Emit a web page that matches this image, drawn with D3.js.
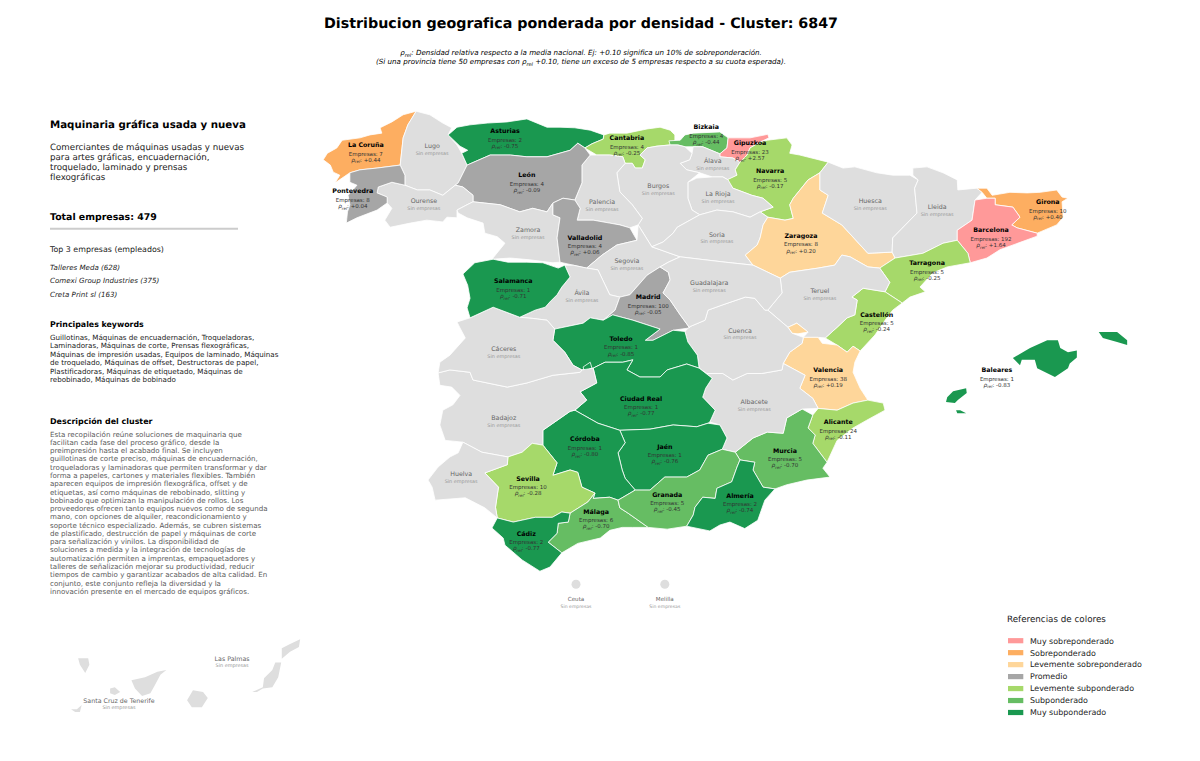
<!DOCTYPE html>
<html lang="es"><head><meta charset="utf-8">
<script src="https://d3js.org/d3.v7.min.js"></script>
<style>html,body{margin:0;padding:0;background:#fff}svg{display:block;opacity:.999}text{font-family:"DejaVu Sans",sans-serif;text-rendering:geometricPrecision}</style>
</head><body><div id="c"></div>
<script>
// ---------- DATA ----------
const activeProvinces = ["La Coruña","Pontevedra","Asturias","Cantabria","Bizkaia","Gipuzkoa","Navarra","Zaragoza","Girona","Barcelona","Tarragona","Castellón","Valencia","Alicante","Murcia","Almería","Granada","Jaén","Córdoba","Ciudad Real","Toledo","Madrid","Salamanca","Valladolid","León","Sevilla","Málaga","Cádiz","Baleares"];
const empresas = [7,8,2,4,4,23,5,8,10,192,5,5,38,24,5,2,5,1,1,1,1,100,1,4,4,10,6,2,1];
const rhoRel = [0.44,0.04,-0.75,-0.25,-0.44,2.57,-0.17,0.20,0.40,1.64,-0.25,-0.24,0.19,-0.11,-0.70,-0.74,-0.45,-0.76,-0.80,-0.77,-0.85,-0.05,-0.71,0.06,-0.09,-0.28,-0.70,-0.77,-0.83];
const emptyProvinces = ["Lugo","Ourense","Zamora","Palencia","Burgos","Álava","La Rioja","Soria","Huesca","Lleida","Segovia","Ávila","Guadalajara","Teruel","Cáceres","Cuenca","Badajoz","Albacete","Huelva","Santa Cruz de Tenerife","Las Palmas","Ceuta","Melilla"];
const islandProvinces = ["Baleares","Santa Cruz de Tenerife","Las Palmas"];
const legendLabels = ["Muy sobreponderado","Sobreponderado","Levemente sobreponderado","Promedio","Levemente subponderado","Subponderado","Muy subponderado"];
const legendColors = ["#ff9999","#fdae61","#fed69a","#a6a6a6","#a6d96a","#66bd63","#1a9850"];
const rhoThresholds = [-0.705,-0.3,-0.1,0.1,0.3,1];
const top3 = ["Talleres Meda (628)","Comexi Group Industries (375)","Creta Print sl (163)"];
const descLines = ["Comerciantes de máquinas usadas y nuevas","para artes gráficas, encuadernación,","troquelado, laminado y prensas","flexográficas"];
const keywordLines = ["Guillotinas, Máquinas de encuadernación, Troqueladoras,","Laminadoras, Máquinas de corte, Prensas flexográficas,","Máquinas de impresión usadas, Equipos de laminado, Máquinas","de troquelado, Máquinas de offset, Destructoras de papel,","Plastificadoras, Máquinas de etiquetado, Máquinas de","rebobinado, Máquinas de bobinado"];
const clusterLines = ["Esta recopilación reúne soluciones de maquinaria que","facilitan cada fase del proceso gráfico, desde la","preimpresión hasta el acabado final. Se incluyen","guillotinas de corte preciso, máquinas de encuadernación,","troqueladoras y laminadoras que permiten transformar y dar","forma a papeles, cartones y materiales flexibles. También","aparecen equipos de impresión flexográfica, offset y de","etiquetas, así como máquinas de rebobinado, slitting y","bobinado que optimizan la manipulación de rollos. Los","proveedores ofrecen tanto equipos nuevos como de segunda","mano, con opciones de alquiler, reacondicionamiento y","soporte técnico especializado. Además, se cubren sistemas","de plastificado, destrucción de papel y máquinas de corte","para señalización y vinilos. La disponibilidad de","soluciones a medida y la integración de tecnologías de","automatización permiten a imprentas, empaquetadores y","talleres de señalización mejorar su productividad, reducir","tiempos de cambio y garantizar acabados de alta calidad. En","conjunto, este conjunto refleja la diversidad y la","innovación presente en el mercado de equipos gráficos."];

// Province outlines, approximate [lon, lat] (Canaries in their displaced inset position)
const boundaries = {
"La Coruña":[[[-7.71,43.78],[-7.93,43.72],[-8.12,43.60],[-8.32,43.50],[-8.29,43.41],[-8.49,43.38],[-8.66,43.33],[-8.96,43.29],[-9.05,43.16],[-9.21,43.07],[-9.28,42.96],[-9.16,42.87],[-9.11,42.75],[-9.00,42.70],[-9.08,42.57],[-8.83,42.74],[-8.66,42.79],[-8.37,42.82],[-7.98,42.87],[-7.93,43.33],[-7.85,43.55]]],
"Lugo":[[[-7.71,43.78],[-7.48,43.72],[-7.26,43.58],[-7.11,43.50],[-7.17,43.38],[-7.02,43.21],[-6.94,43.07],[-6.85,42.87],[-7.00,42.57],[-7.05,42.53],[-7.26,42.36],[-7.48,42.45],[-7.69,42.45],[-7.90,42.53],[-7.90,42.70],[-7.98,42.87],[-7.93,43.33],[-7.85,43.55]]],
"Asturias":[[[-7.17,43.38],[-7.02,43.51],[-6.80,43.55],[-6.51,43.58],[-6.17,43.60],[-5.84,43.65],[-5.50,43.51],[-5.28,43.51],[-5.03,43.50],[-4.77,43.46],[-4.54,43.38],[-4.55,43.31],[-4.74,43.23],[-4.86,43.16],[-4.98,43.24],[-5.11,43.12],[-5.50,43.01],[-5.84,43.01],[-6.12,43.04],[-6.46,43.04],[-6.85,42.87],[-6.94,43.07],[-6.84,43.12],[-6.97,43.19]]],
"Cantabria":[[[-4.54,43.38],[-4.44,43.41],[-4.15,43.41],[-3.81,43.48],[-3.59,43.51],[-3.42,43.46],[-3.34,43.38],[-3.34,43.29],[-3.42,43.21],[-3.64,43.19],[-3.81,43.16],[-3.93,43.04],[-3.84,42.96],[-3.89,42.82],[-4.01,42.82],[-4.06,42.90],[-4.18,42.90],[-4.22,43.01],[-4.44,43.04],[-4.66,43.04],[-4.86,43.16],[-4.74,43.23],[-4.55,43.31]]],
"Bizkaia":[[[-3.44,43.28],[-3.25,43.29],[-3.17,43.38],[-3.03,43.41],[-2.58,43.43],[-2.44,43.33],[-2.46,43.16],[-2.58,43.06],[-2.87,43.18],[-3.03,43.18],[-3.17,43.18],[-3.29,43.21],[-3.42,43.21]]],
"Gipuzkoa":[[[-2.44,43.33],[-2.07,43.33],[-1.77,43.39],[-1.75,43.33],[-1.90,43.26],[-2.07,43.16],[-2.12,43.04],[-2.24,42.92],[-2.36,42.99],[-2.58,43.01],[-2.58,43.06],[-2.46,43.16]]],
"Álava":[[[-2.58,43.01],[-2.36,42.99],[-2.24,42.92],[-2.32,42.79],[-2.29,42.70],[-2.44,42.62],[-2.53,42.67],[-2.71,42.67],[-2.92,42.74],[-3.14,42.79],[-3.25,42.90],[-3.09,42.96],[-3.05,43.07],[-3.03,43.18],[-2.87,43.18],[-2.58,43.06]]],
"Navarra":[[[-1.90,43.26],[-1.78,43.29],[-1.45,43.33],[-1.36,43.21],[-1.40,43.07],[-1.23,43.04],[-0.75,42.92],[-0.89,42.74],[-1.09,42.62],[-1.34,42.31],[-1.40,42.20],[-1.34,41.97],[-1.48,41.94],[-1.77,41.99],[-1.90,42.08],[-1.68,42.16],[-1.85,42.31],[-2.04,42.36],[-2.36,42.48],[-2.46,42.62],[-2.29,42.70],[-2.32,42.79],[-2.24,42.92],[-2.12,43.04],[-2.07,43.16]]],
"La Rioja":[[[-3.12,42.58],[-2.97,42.65],[-2.71,42.67],[-2.53,42.67],[-2.44,42.62],[-2.36,42.48],[-2.04,42.36],[-1.85,42.31],[-1.68,42.16],[-1.90,42.08],[-2.07,41.99],[-2.36,42.08],[-2.63,42.11],[-2.92,42.03],[-3.05,42.11],[-3.12,42.31]]],
"Burgos":[[[-3.64,43.19],[-3.81,43.16],[-3.93,43.04],[-3.84,42.96],[-3.89,42.82],[-4.01,42.82],[-4.06,42.90],[-4.18,42.90],[-4.32,42.74],[-4.27,42.42],[-4.06,42.20],[-3.89,41.97],[-3.96,41.86],[-3.73,41.49],[-3.54,41.57],[-3.37,41.72],[-3.30,41.82],[-2.92,42.03],[-3.05,42.11],[-3.12,42.31],[-3.12,42.58],[-2.92,42.74],[-3.14,42.79],[-3.25,42.90],[-3.09,42.96],[-3.05,43.07],[-3.17,43.18],[-3.29,43.21],[-3.42,43.21]]],
"Palencia":[[[-4.66,43.04],[-4.44,43.04],[-4.22,43.01],[-4.18,42.90],[-4.32,42.74],[-4.27,42.42],[-4.06,42.20],[-3.89,41.97],[-3.96,41.86],[-4.10,41.81],[-4.27,41.86],[-4.44,41.89],[-4.72,41.94],[-4.99,41.94],[-4.94,42.14],[-5.03,42.28],[-4.91,42.57],[-4.91,42.87],[-4.77,43.04]]],
"León":[[[-6.85,42.87],[-6.46,43.04],[-6.12,43.04],[-5.84,43.01],[-5.50,43.01],[-5.11,43.12],[-4.98,43.24],[-4.86,43.16],[-4.77,43.04],[-4.91,42.87],[-4.91,42.57],[-5.03,42.28],[-5.23,42.31],[-5.40,42.23],[-5.50,42.08],[-5.74,42.14],[-5.96,42.08],[-6.29,42.20],[-6.75,42.25],[-6.75,42.36],[-6.92,42.50],[-7.05,42.53],[-7.00,42.57]]],
"Ourense":[[[-8.35,42.50],[-8.12,42.58],[-7.90,42.53],[-7.69,42.45],[-7.48,42.45],[-7.26,42.36],[-7.05,42.53],[-6.92,42.50],[-6.75,42.36],[-6.75,42.25],[-6.85,42.20],[-7.02,42.11],[-7.02,41.98],[-7.19,41.99],[-7.26,41.91],[-7.53,41.94],[-7.81,41.89],[-8.15,41.82],[-8.24,41.94],[-8.12,42.14],[-8.20,42.23],[-8.20,42.33],[-8.37,42.40]]],
"Pontevedra":[[[-8.83,42.74],[-8.66,42.79],[-8.37,42.82],[-7.98,42.87],[-7.90,42.70],[-7.90,42.53],[-8.12,42.58],[-8.35,42.50],[-8.37,42.40],[-8.20,42.33],[-8.20,42.23],[-8.37,42.11],[-8.71,41.98],[-8.89,41.89],[-8.87,42.08],[-8.83,42.20],[-8.86,42.36],[-8.71,42.53],[-8.83,42.58]]],
"Zamora":[[[-6.75,42.25],[-6.29,42.20],[-5.96,42.08],[-5.74,42.14],[-5.50,42.08],[-5.40,42.23],[-5.40,42.03],[-5.28,41.98],[-5.33,41.64],[-5.28,41.23],[-5.40,41.22],[-5.79,41.27],[-6.12,41.30],[-6.43,41.28],[-6.21,41.55],[-6.34,41.66],[-6.55,41.72],[-6.58,41.89],[-6.85,41.98],[-7.00,42.06],[-7.02,42.11],[-6.85,42.20]]],
"Valladolid":[[[-5.40,42.23],[-5.23,42.31],[-5.03,42.28],[-4.94,42.14],[-4.99,41.94],[-4.72,41.94],[-4.44,41.89],[-4.27,41.86],[-4.10,41.81],[-3.98,41.60],[-4.32,41.52],[-4.57,41.35],[-4.83,41.13],[-5.06,41.18],[-5.28,41.23],[-5.33,41.64],[-5.28,41.98],[-5.40,42.03]]],
"Segovia":[[[-4.83,41.13],[-4.57,41.35],[-4.32,41.52],[-3.98,41.60],[-3.96,41.86],[-3.73,41.49],[-3.25,41.32],[-3.45,41.23],[-3.59,41.15],[-3.81,41.01],[-4.10,40.68],[-4.27,40.64],[-4.44,40.68],[-4.64,41.10]]],
"Ávila":[[[-5.20,41.18],[-5.06,41.18],[-4.83,41.13],[-4.64,41.10],[-4.44,40.68],[-4.27,40.64],[-4.35,40.42],[-4.55,40.25],[-4.77,40.29],[-4.89,40.20],[-5.37,40.10],[-5.50,40.25],[-5.74,40.28],[-5.96,40.30],[-5.70,40.42],[-5.53,40.47],[-5.45,40.56],[-5.33,40.68],[-5.25,40.81],[-5.11,40.98]]],
"Madrid":[[[-3.59,41.15],[-3.45,41.06],[-3.42,40.93],[-3.54,40.71],[-3.42,40.59],[-3.25,40.34],[-3.09,40.12],[-3.37,40.08],[-3.71,39.91],[-3.84,39.91],[-3.59,40.10],[-4.05,40.25],[-4.39,40.34],[-4.55,40.25],[-4.35,40.42],[-4.27,40.64],[-4.10,40.68],[-3.81,41.01]]],
"Soria":[[[-3.30,41.82],[-2.92,42.03],[-2.63,42.11],[-2.36,42.08],[-2.07,41.99],[-1.90,42.08],[-1.77,41.99],[-1.85,41.86],[-1.90,41.64],[-1.95,41.52],[-2.15,41.35],[-2.02,41.18],[-2.49,41.23],[-2.83,41.27],[-3.25,41.32],[-3.73,41.49],[-3.54,41.57],[-3.37,41.72]]],
"Zaragoza":[[[-1.77,41.99],[-1.48,41.94],[-1.34,41.97],[-1.40,42.20],[-1.34,42.31],[-1.09,42.62],[-0.89,42.74],[-0.89,42.45],[-0.75,42.36],[-0.85,42.06],[-0.52,41.86],[-0.08,41.38],[0.33,41.40],[0.38,41.30],[0.12,41.13],[-0.08,41.15],[-0.38,41.32],[-0.52,41.35],[-0.64,41.18],[-0.92,41.13],[-1.40,41.06],[-1.56,40.96],[-2.02,41.18],[-2.15,41.35],[-1.95,41.52],[-1.90,41.64],[-1.85,41.86]]],
"Huesca":[[[-0.75,42.92],[-0.50,42.82],[-0.30,42.84],[0.07,42.74],[0.34,42.70],[0.63,42.70],[0.77,42.62],[0.71,42.48],[0.75,42.06],[0.34,41.64],[0.33,41.40],[-0.08,41.38],[-0.52,41.86],[-0.85,42.06],[-0.75,42.36],[-0.89,42.45],[-0.89,42.74]]],
"Lleida":[[[0.68,42.82],[0.92,42.84],[1.19,42.74],[1.43,42.62],[1.44,42.45],[1.76,42.48],[1.85,42.41],[1.73,42.28],[1.68,41.94],[1.43,41.77],[1.43,41.60],[1.19,41.55],[0.85,41.38],[0.38,41.30],[0.33,41.40],[0.34,41.64],[0.75,42.06],[0.71,42.48],[0.77,42.62],[0.68,42.70]]],
"Girona":[[[1.76,42.48],[1.93,42.48],[2.02,42.36],[2.32,42.41],[2.61,42.40],[2.83,42.41],[3.11,42.45],[3.20,42.33],[3.30,42.31],[3.20,42.25],[3.22,41.99],[3.11,41.86],[2.78,41.72],[2.44,41.81],[2.35,41.86],[2.49,41.99],[2.37,42.16],[2.07,42.20],[2.07,42.31],[1.93,42.31],[1.85,42.41]]],
"Barcelona":[[[1.73,42.28],[1.93,42.31],[2.07,42.31],[2.07,42.20],[2.37,42.16],[2.49,41.99],[2.35,41.86],[2.44,41.81],[2.78,41.72],[2.78,41.67],[2.15,41.44],[1.93,41.30],[1.65,41.22],[1.61,41.38],[1.43,41.60],[1.43,41.77],[1.68,41.94]]],
"Tarragona":[[[1.19,41.55],[1.43,41.60],[1.61,41.38],[1.65,41.22],[1.26,41.15],[1.02,41.05],[0.80,40.81],[0.89,40.73],[0.63,40.64],[0.50,40.54],[0.21,40.73],[0.29,40.89],[0.12,41.13],[0.38,41.30],[0.85,41.38]]],
"Castellón":[[[-0.35,40.64],[-0.16,40.79],[0.21,40.73],[0.50,40.54],[0.34,40.42],[0.24,40.29],[0.04,40.00],[-0.21,39.73],[-0.33,39.81],[-0.43,39.71],[-0.60,39.83],[-0.80,39.95],[-0.60,40.13],[-0.43,40.29],[-0.30,40.34],[-0.26,40.59]]],
"Teruel":[[[-1.56,40.96],[-1.40,41.06],[-0.92,41.13],[-0.64,41.18],[-0.52,41.35],[-0.38,41.32],[-0.08,41.15],[0.12,41.13],[0.29,40.89],[0.21,40.73],[-0.16,40.79],[-0.35,40.64],[-0.26,40.59],[-0.30,40.34],[-0.43,40.29],[-0.60,40.13],[-0.80,39.95],[-0.92,39.96],[-1.17,39.96],[-1.09,40.05],[-1.28,40.20],[-1.43,40.13],[-1.77,40.42],[-1.53,40.71]]],
"Valencia":[[[-1.17,39.96],[-0.92,39.96],[-0.85,39.86],[-0.60,39.83],[-0.43,39.71],[-0.33,39.81],[-0.21,39.73],[-0.30,39.54],[-0.33,39.37],[-0.21,39.10],[-0.08,38.90],[-0.33,38.85],[-0.60,38.73],[-0.92,38.76],[-1.01,38.93],[-1.23,39.10],[-1.14,39.32],[-1.51,39.52],[-1.40,39.71],[-1.19,39.86]],[[-1.43,40.13],[-1.28,40.20],[-1.09,40.05],[-1.26,40.02],[-1.36,40.03]]],
"Alicante":[[[-0.92,38.76],[-0.60,38.73],[-0.33,38.85],[-0.08,38.90],[0.18,38.85],[0.21,38.73],[-0.10,38.56],[-0.33,38.43],[-0.60,38.22],[-0.77,37.85],[-1.01,38.17],[-0.97,38.31],[-1.09,38.43],[-1.01,38.65]]],
"Murcia":[[[-2.32,38.02],[-2.02,38.26],[-1.78,38.36],[-1.51,38.34],[-1.45,38.60],[-1.19,38.75],[-1.01,38.65],[-1.09,38.43],[-0.97,38.31],[-1.01,38.17],[-0.77,37.85],[-0.84,37.75],[-0.72,37.60],[-1.11,37.55],[-1.45,37.47],[-1.65,37.40],[-1.85,37.43],[-2.02,37.72],[-1.99,37.85],[-2.24,37.89]]],
"Albacete":[[[-2.93,39.44],[-2.80,39.35],[-2.53,39.35],[-2.36,39.24],[-2.12,39.35],[-1.87,39.35],[-1.53,39.41],[-1.51,39.52],[-1.14,39.32],[-1.23,39.10],[-1.01,38.93],[-0.92,38.76],[-1.19,38.75],[-1.45,38.60],[-1.51,38.34],[-1.78,38.36],[-2.02,38.26],[-2.32,38.02],[-2.54,38.07],[-2.46,38.26],[-2.58,38.48],[-2.75,38.53],[-2.66,38.73],[-2.87,38.95],[-2.82,39.10],[-2.71,39.27]]],
"Cuenca":[[[-3.09,40.14],[-2.83,40.25],[-2.78,40.42],[-2.53,40.51],[-2.15,40.64],[-1.99,40.62],[-1.82,40.42],[-1.77,40.42],[-1.43,40.13],[-1.36,40.03],[-1.17,39.96],[-1.19,39.86],[-1.40,39.71],[-1.51,39.52],[-1.53,39.41],[-1.87,39.35],[-2.12,39.35],[-2.36,39.24],[-2.53,39.35],[-2.80,39.35],[-2.93,39.44],[-2.96,39.66],[-3.12,39.88],[-3.17,40.06]]],
"Guadalajara":[[[-3.25,41.32],[-2.83,41.27],[-2.49,41.23],[-2.02,41.18],[-1.56,40.96],[-1.53,40.71],[-1.77,40.42],[-1.82,40.42],[-1.99,40.62],[-2.15,40.64],[-2.53,40.51],[-2.78,40.42],[-2.83,40.25],[-3.09,40.14],[-3.09,40.12],[-3.25,40.34],[-3.42,40.59],[-3.54,40.71],[-3.42,40.93],[-3.45,41.06],[-3.59,41.15],[-3.45,41.23]]],
"Toledo":[[[-5.37,40.10],[-4.89,40.20],[-4.77,40.29],[-4.55,40.25],[-4.39,40.34],[-4.05,40.25],[-3.59,40.10],[-3.84,39.91],[-3.71,39.91],[-3.37,40.08],[-3.17,40.06],[-3.12,39.88],[-2.96,39.66],[-2.93,39.44],[-3.14,39.51],[-3.47,39.41],[-3.59,39.29],[-3.93,39.29],[-4.15,39.41],[-4.05,39.58],[-4.22,39.54],[-4.52,39.54],[-4.72,39.44],[-4.91,39.41],[-5.06,39.49],[-5.20,39.71],[-5.40,39.91]]],
"Ciudad Real":[[[-4.72,39.44],[-4.52,39.54],[-4.22,39.54],[-4.05,39.58],[-4.15,39.41],[-3.93,39.29],[-3.59,39.29],[-3.47,39.41],[-3.14,39.51],[-2.93,39.44],[-2.71,39.27],[-2.82,39.10],[-2.87,38.95],[-2.66,38.73],[-2.75,38.53],[-2.78,38.51],[-2.97,38.45],[-3.37,38.48],[-3.76,38.41],[-4.27,38.39],[-4.64,38.51],[-5.03,38.73],[-4.83,38.90],[-4.94,39.04],[-4.66,39.19]],[[-4.89,39.46],[-4.77,39.54],[-4.74,39.44],[-4.87,39.39]]],
"Jaén":[[[-4.27,38.39],[-3.76,38.41],[-3.37,38.48],[-2.97,38.45],[-2.78,38.51],[-2.58,38.48],[-2.46,38.26],[-2.54,38.07],[-2.78,37.97],[-2.92,37.72],[-3.14,37.60],[-3.51,37.60],[-3.76,37.38],[-4.01,37.38],[-4.18,37.58],[-4.23,37.72],[-4.30,38.01],[-4.18,38.18]]],
"Córdoba":[[[-5.03,38.73],[-4.64,38.51],[-4.27,38.39],[-4.18,38.18],[-4.30,38.01],[-4.23,37.72],[-4.18,37.58],[-4.01,37.38],[-4.30,37.21],[-4.44,37.26],[-4.72,37.24],[-4.69,37.33],[-4.91,37.43],[-4.98,37.68],[-5.11,37.72],[-5.40,37.63],[-5.33,37.84],[-5.57,38.14],[-5.57,38.39],[-5.11,38.71]]],
"Badajoz":[[[-7.14,39.41],[-6.80,39.37],[-6.75,39.24],[-6.17,39.12],[-5.84,39.19],[-5.40,39.32],[-4.94,39.37],[-4.91,39.41],[-4.72,39.44],[-4.66,39.19],[-4.94,39.04],[-4.83,38.90],[-5.03,38.73],[-5.11,38.71],[-5.57,38.39],[-5.57,38.14],[-5.75,38.17],[-5.92,38.02],[-6.16,37.94],[-6.60,38.02],[-6.92,38.19],[-7.22,38.22],[-7.31,38.48],[-7.26,38.73],[-7.09,38.82],[-6.97,38.98],[-7.11,39.12],[-7.31,39.15],[-7.34,39.36]]],
"Cáceres":[[[-7.02,40.22],[-6.80,40.29],[-6.41,40.47],[-5.96,40.30],[-5.74,40.28],[-5.50,40.25],[-5.37,40.10],[-5.40,39.91],[-5.20,39.71],[-5.06,39.49],[-4.91,39.41],[-4.94,39.37],[-5.40,39.32],[-5.84,39.19],[-6.17,39.12],[-6.75,39.24],[-6.80,39.37],[-7.14,39.41],[-7.34,39.36],[-7.31,39.54],[-7.14,39.66],[-6.88,39.95],[-6.97,40.12]]],
"Salamanca":[[[-6.92,41.03],[-6.72,41.22],[-6.41,41.28],[-6.16,41.23],[-5.84,41.23],[-5.57,41.22],[-5.31,41.13],[-5.20,41.18],[-5.11,40.98],[-5.25,40.81],[-5.33,40.68],[-5.45,40.56],[-5.53,40.47],[-5.70,40.42],[-5.96,40.30],[-6.41,40.47],[-6.80,40.29],[-6.85,40.46],[-6.80,40.62],[-6.84,40.84]]],
"Sevilla":[[[-6.55,37.67],[-6.17,37.81],[-6.16,37.94],[-5.92,38.02],[-5.75,38.17],[-5.57,38.14],[-5.33,37.84],[-5.40,37.63],[-5.11,37.72],[-4.98,37.68],[-4.91,37.43],[-4.69,37.33],[-4.81,37.18],[-5.11,36.99],[-5.25,37.01],[-5.41,36.92],[-5.70,36.92],[-6.07,36.84],[-6.34,36.91],[-6.37,37.09],[-6.32,37.43]]],
"Huelva":[[[-6.92,38.19],[-6.60,38.02],[-6.16,37.94],[-6.17,37.81],[-6.55,37.67],[-6.32,37.43],[-6.37,37.09],[-6.34,36.91],[-6.55,37.08],[-6.88,37.25],[-7.39,37.21],[-7.44,37.43],[-7.51,37.55],[-7.34,37.77],[-7.14,37.94],[-7.00,38.01]]],
"Málaga":[[[-4.72,37.24],[-4.44,37.26],[-4.30,37.21],[-4.27,37.08],[-4.13,36.99],[-3.79,36.75],[-4.06,36.75],[-4.23,36.75],[-4.44,36.70],[-4.60,36.57],[-4.98,36.48],[-5.25,36.32],[-5.48,36.50],[-5.33,36.65],[-5.31,36.82],[-5.14,36.84],[-5.11,36.99],[-4.81,37.18],[-4.69,37.33]]],
"Granada":[[[-4.30,37.21],[-4.01,37.38],[-3.76,37.38],[-3.51,37.60],[-3.14,37.60],[-2.92,37.72],[-2.78,37.97],[-2.54,38.07],[-2.32,38.02],[-2.24,37.89],[-2.29,37.77],[-2.38,37.52],[-2.63,37.41],[-2.66,37.24],[-2.87,37.26],[-3.00,37.09],[-3.03,36.96],[-3.14,36.77],[-3.47,36.72],[-3.79,36.75],[-4.13,36.99],[-4.27,37.08]]],
"Almería":[[[-2.24,37.89],[-1.99,37.85],[-2.02,37.72],[-1.85,37.43],[-1.65,37.40],[-1.82,37.21],[-1.94,36.87],[-2.16,36.73],[-2.41,36.84],[-2.58,36.79],[-2.75,36.69],[-3.14,36.77],[-3.03,36.96],[-3.00,37.09],[-2.87,37.26],[-2.66,37.24],[-2.63,37.41],[-2.38,37.52],[-2.29,37.77]]],
"Cádiz":[[[-6.43,36.74],[-6.34,36.91],[-6.07,36.84],[-5.70,36.92],[-5.41,36.92],[-5.25,37.01],[-5.11,36.99],[-5.14,36.84],[-5.31,36.82],[-5.33,36.65],[-5.48,36.50],[-5.25,36.32],[-5.45,36.08],[-5.62,36.01],[-5.92,36.20],[-6.21,36.45],[-6.24,36.57]]],
"Baleares":[[[2.37,39.61],[2.66,39.78],[2.95,39.91],[3.13,39.91],[3.17,39.78],[3.30,39.71],[3.45,39.74],[3.45,39.62],[3.33,39.52],[3.30,39.44],[3.08,39.29],[2.78,39.44],[2.74,39.58],[2.52,39.58],[2.49,39.49]],[[3.82,40.05],[4.13,40.05],[4.30,39.91],[4.30,39.83],[4.13,39.88],[3.89,39.95]],[[1.26,38.95],[1.36,39.05],[1.58,39.10],[1.59,39.02],[1.44,38.90],[1.39,38.85],[1.24,38.87]],[[1.41,38.73],[1.48,38.73],[1.58,38.68],[1.43,38.68]]],
"Santa Cruz de Tenerife":[[[-13.42,34.54],[-13.25,34.54],[-13.23,34.43],[-13.30,34.29],[-13.39,34.43]],[[-12.88,34.03],[-12.80,34.05],[-12.71,33.97],[-12.80,33.92],[-12.88,33.95]],[[-12.52,34.17],[-12.29,34.22],[-12.08,34.31],[-11.93,34.34],[-12.03,34.26],[-12.12,34.09],[-12.20,33.95],[-12.34,33.90],[-12.46,34.03]],[[-13.54,33.68],[-13.44,33.68],[-13.36,33.75],[-13.39,33.63],[-13.47,33.63]]],
"Las Palmas":[[[-11.48,34.00],[-11.31,33.97],[-11.23,33.87],[-11.33,33.71],[-11.50,33.71],[-11.58,33.83]],[[-10.09,34.47],[-9.99,34.47],[-10.04,34.22],[-10.14,34.05],[-10.30,34.03],[-10.40,33.97],[-10.48,33.97],[-10.30,34.05],[-10.28,34.20],[-10.14,34.34]],[[-9.98,34.71],[-9.84,34.78],[-9.67,34.86],[-9.69,34.73],[-9.84,34.65],[-9.98,34.53]]]
};
const cityPoints = {"Ceuta":[-5.01,35.79],"Melilla":[-3.51,35.79]};
const labelAnchors = {"La Coruña":[-8.56,43.21],"Pontevedra":[-8.78,42.43],"Asturias":[-6.21,43.45],"Cantabria":[-4.15,43.33],"Bizkaia":[-2.81,43.51],"Gipuzkoa":[-2.07,43.24],"Navarra":[-1.73,42.77],"Zaragoza":[-1.21,41.68],"Girona":[2.96,42.25],"Barcelona":[2.00,41.77],"Tarragona":[0.92,41.22],"Castellón":[0.07,40.35],"Valencia":[-0.75,39.41],"Alicante":[-0.58,38.53],"Murcia":[-1.48,38.05],"Almería":[-2.24,37.29],"Granada":[-3.47,37.31],"Jaén":[-3.51,38.12],"Córdoba":[-4.86,38.24],"Ciudad Real":[-3.91,38.93],"Toledo":[-4.25,39.94],"Madrid":[-3.79,40.64],"Salamanca":[-6.07,40.91],"Valladolid":[-4.86,41.65],"León":[-5.84,42.70],"Sevilla":[-5.82,37.58],"Málaga":[-4.67,37.02],"Cádiz":[-5.85,36.65],"Baleares":[2.10,39.41],
"Lugo":[-7.44,43.19],"Ourense":[-7.58,42.26],"Zamora":[-5.82,41.77],"Palencia":[-4.57,42.25],"Burgos":[-3.62,42.52],"Álava":[-2.70,42.94],"La Rioja":[-2.61,42.38],"Soria":[-2.63,41.70],"Huesca":[-0.04,42.26],"Lleida":[1.09,42.16],"Segovia":[-4.15,41.25],"Ávila":[-4.91,40.71],"Guadalajara":[-2.76,40.88],"Teruel":[-0.89,40.74],"Cáceres":[-6.23,39.76],"Cuenca":[-2.24,40.08],"Badajoz":[-6.23,38.60],"Albacete":[-2.00,38.87],"Huelva":[-6.95,37.66],"Santa Cruz de Tenerife":[-12.73,33.83],"Las Palmas":[-10.82,34.54],"Ceuta":[-5.01,35.54],"Melilla":[-3.51,35.54]};

// ---------- DRAW ----------
const W=1200,H=761;
const svg=d3.select("#c").append("svg").attr("width",W).attr("height",H).attr("viewBox",`0 0 ${W} ${H}`);
const x=d3.scaleLinear().domain([-9,4]).range([339.8,1109.4]);
const y=d3.scaleLinear().domain([36,44]).range([571.8,98.2]);
const ringPath=d3.line().x(d=>x(d[0])).y(d=>y(d[1])).curve(d3.curveLinearClosed);
const colorScale=d3.scaleThreshold().domain(rhoThresholds).range(legendColors.slice().reverse());
const NONE="#dedede";
const rhoOf=new Map(activeProvinces.map((n,i)=>[n,rhoRel[i]]));

const map=svg.append("g");
map.selectAll("path.prov").data(Object.keys(boundaries)).join("path").attr("class","prov")
 .attr("d",n=>boundaries[n].map(ringPath).join(""))
 .attr("fill",n=>rhoOf.has(n)?colorScale(rhoOf.get(n)):NONE)
 .attr("stroke",n=>islandProvinces.includes(n)?"none":"#fff").attr("stroke-width",0.8).attr("stroke-linejoin","round");
map.selectAll("circle.city").data(Object.keys(cityPoints)).join("circle").attr("class","city")
 .attr("cx",n=>x(cityPoints[n][0])).attr("cy",n=>y(cityPoints[n][1])).attr("r",4.5).attr("fill",NONE);

function centered(g,txt,px,py,size,fill,weight){
  return g.append("text").attr("x",px).attr("y",py).attr("text-anchor","middle").attr("font-size",size)
   .attr("fill",fill).attr("font-weight",weight||"normal").attr("dy","0.36em").text(txt);
}
const fmtRho=v=>(v>0?"+":"")+v.toFixed(2);
const labels=svg.append("g");
emptyProvinces.forEach(n=>{
  const [lo,la]=labelAnchors[n],px=x(lo),py=y(la);
  const small=(n==="Ceuta"||n==="Melilla");
  centered(labels,n,px,py,small?5.6:6.3,"#666");
  centered(labels,"Sin empresas",px,py+7.3,small?4.6:4.9,"#999");
});
activeProvinces.forEach((n,i)=>{
  const [lo,la]=labelAnchors[n],px=x(lo),py=y(la);
  centered(labels,n,px,py,6.3,"#000","bold");
  centered(labels,"Empresas: "+empresas[i],px,py+8.8,5.5,"#333");
  const t=centered(labels,"",px,py+15,5.5,"#333");
  t.append("tspan").attr("font-style","italic").attr("font-size",5.8).text("ρ");
  t.append("tspan").attr("font-style","italic").attr("font-size",4).attr("dy","0.35em").text("rel");
  t.append("tspan").attr("dy","-0.25em").text(": "+fmtRho(rhoRel[i]));
});

// Titles
svg.append("text").attr("x",581).attr("y",28).attr("text-anchor","middle").attr("font-size",14.28).attr("font-weight","bold").attr("fill","#000").text("Distribucion geografica ponderada por densidad - Cluster: 6847");
const sub1=svg.append("text").attr("x",581).attr("y",55).attr("text-anchor","middle").attr("font-size",7.12).attr("font-style","italic").attr("fill","#000");
sub1.append("tspan").text("ρ");
sub1.append("tspan").attr("font-size",5).attr("dy","1.5").text("rel");
sub1.append("tspan").attr("dy","-1.5").text(": Densidad relativa respecto a la media nacional. Ej: +0.10 significa un 10% de sobreponderación.");
const sub2=svg.append("text").attr("x",581).attr("y",64).attr("text-anchor","middle").attr("font-size",7.12).attr("font-style","italic").attr("fill","#000");
sub2.append("tspan").text("(Si una provincia tiene 50 empresas con ");
sub2.append("tspan").text("ρ");
sub2.append("tspan").attr("font-size",5).attr("dy","1.5").text("rel");
sub2.append("tspan").attr("dy","-1.5").text(" +0.10, tiene un exceso de 5 empresas respecto a su cuota esperada).");

// Left panel
const panel=svg.append("g");
function left(txt,py,size,fill,weight,style){
  return panel.append("text").attr("x",50).attr("y",py).attr("font-size",size).attr("fill",fill)
   .attr("font-weight",weight||"normal").attr("font-style",style||"normal").attr("dy","0.36em").text(txt);
}
left("Maquinaria gráfica usada y nueva",124,10.25,"#000","bold");
descLines.forEach((s,i)=>left(s,147+i*10,8.68,"#222"));
left("Total empresas: 479",216.7,9.4,"#000","bold");
panel.append("line").attr("x1",50).attr("x2",238).attr("y1",228.7).attr("y2",228.7).attr("stroke","#ccc").attr("stroke-width",2);
left("Top 3 empresas (empleados)",249,7.9,"#222");
top3.forEach((s,i)=>left(s,267+i*13.5,7.1,"#222","normal","italic"));
left("Principales keywords",324,7.85,"#000","bold");
keywordLines.forEach((s,i)=>left(s,337.3+i*8.47,7.15,"#222"));
left("Descripción del cluster",421,7.95,"#000","bold");
clusterLines.forEach((s,i)=>left(s,434+i*8.28,7.1,"#595959"));

// Legend
const legend=svg.append("g");
legend.append("text").attr("x",1007).attr("y",619).attr("dy","0.36em").attr("font-size",8.75).attr("fill","#222").text("Referencias de colores");
const rowY=d3.scalePoint().domain(legendLabels).range([640.7,712.5]);
legend.selectAll("rect").data(legendLabels).join("rect").attr("x",1008).attr("width",15.3).attr("height",5.2)
  .attr("y",d=>rowY(d)-2.6).attr("fill",(d,i)=>legendColors[i]);
legend.selectAll("text.row").data(legendLabels).join("text").attr("class","row").attr("x",1030).attr("y",d=>rowY(d)).attr("dy","0.36em").attr("font-size",7.95).attr("fill","#222").text(d=>d);
</script></body></html>
